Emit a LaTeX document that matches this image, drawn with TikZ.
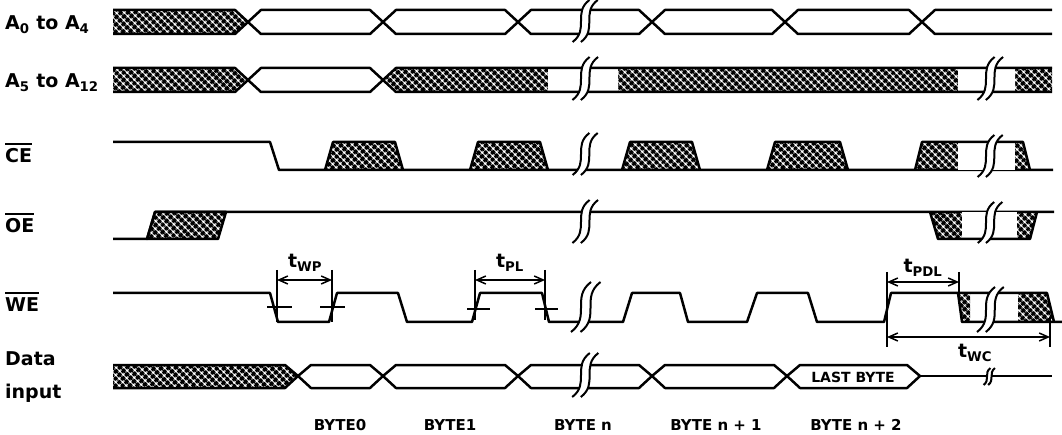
\documentclass[tikz,border=0pt]{standalone}
\usepackage{fontspec}
\setmainfont{DejaVu Sans}
\usetikzlibrary{patterns.meta,arrows.meta}
\tikzdeclarepattern{name=xhatch,type=uncolored,
  bounding box={(0pt,0pt) and (5.7pt,5.7pt)},tile size={(5.7pt,5.7pt)},
  tile transformation={rotate=45},
  code={\draw[line width=3.3pt](0pt,2.85pt)--(5.7pt,2.85pt)(2.85pt,0pt)--(2.85pt,5.7pt);}}
\newcommand{\ovl}[1]{\vbox{\hrule height 1.8pt\kern 4pt\hbox{#1}}}
\newcommand{\sbreak}[3]{%
\pgfmathsetmacro{\bh}{#3-#2}\pgfmathsetmacro{\ba}{0.2*\bh}%
\pgfmathsetmacro{\bc}{0.3*\bh}\pgfmathsetmacro{\bs}{0.15*\bh+2}%
\fill[white]({#1-\ba},#3)..controls({#1+\ba},{#3-\bc})and({#1-\ba},{#2+\bc})..({#1+\ba},#2)
--({#1+\ba+\bs},#2)..controls({#1-\ba+\bs},{#2+\bc})and({#1+\ba+\bs},{#3-\bc})..({#1-\ba+\bs},#3)--cycle;
\draw[brk]({#1-\ba},#3)..controls({#1+\ba},{#3-\bc})and({#1-\ba},{#2+\bc})..({#1+\ba},#2)
({#1-\ba+\bs},#3)..controls({#1+\ba+\bs},{#3-\bc})and({#1-\ba+\bs},{#2+\bc})..({#1+\ba+\bs},#2);}
\begin{document}
\begin{tikzpicture}[x=1pt,y=-1pt,
  sig/.style={line width=2.5pt,line join=round},
  hatch/.style={sig,pattern=xhatch},
  brk/.style={line width=2pt},
  aux/.style={line width=1.5pt},
  dim/.style={aux,{Straight Barb[length=9pt,width=8pt]}-{Straight Barb[length=9pt,width=8pt]}},
  lbl/.style={font=\fontsize{19}{23}\selectfont\bfseries,anchor=base west,inner sep=0pt},
  tlbl/.style={font=\fontsize{19}{23}\selectfont\bfseries,inner sep=0pt},
  byte/.style={font=\fontsize{15}{18}\selectfont\bfseries,inner sep=0pt}]
\useasboundingbox(0,0)rectangle(1062,435);
\node[lbl](la0)at(5,30){A\textsubscript{0} to A\textsubscript{4}};
\node[lbl](la5)at(5,88){A\textsubscript{5} to A\textsubscript{12}};
\node[lbl](lce)at(5,163){\ovl{CE}};
\node[lbl](loe)at(5,233){\ovl{OE}};
\node[lbl](lwe)at(5,312){\ovl{WE}};
\node[lbl](ldata)at(5,365){Data};
\node[lbl](linput)at(5,398){input};
\draw[hatch](113,10)--(235,10)--(248,22)--(235,34)--(113,34);
\foreach \a/\b in {248/383,383/518,518/652,652/785,785/922}
  \draw[sig](\a,22)--(\a+13,10)--(\b-13,10)--(\b,22)--(\b-13,34)--(\a+13,34)--cycle;
\draw[sig](1052,10)--(935,10)--(922,22)--(935,34)--(1052,34);
\draw[hatch](113,68)--(235,68)--(248,80)--(235,92)--(113,92);
\draw[sig](248,80)--(261,68)--(370,68)--(383,80)--(370,92)--(261,92)--cycle;
\fill[pattern=xhatch](383,80)--(396,68)--(1052,68)--(1052,92)--(396,92)--cycle;
\fill[white](548,68)rectangle(618,92)(958,68)rectangle(1015,92);
\draw[sig](1052,68)--(396,68)--(383,80)--(396,92)--(1052,92);
\draw[sig](113,142)--(270,142)--(279,170)--(1053,170);
\foreach \a/\b in {325/403,470/548,622/700,767/848}
  \draw[hatch](\a,170)--(\a+8,142)--(\b-8,142)--(\b,170);
\fill[pattern=xhatch](915,170)--(922,142)--(1023,142)--(1030,170)--cycle;
\fill[white](958,142)rectangle(1015,170);
\draw[sig](915,170)--(922,142)--(1023,142)--(1030,170);
\draw[sig](113,239)--(147,239)--(155,212)--(1054,212);
\draw[hatch](147,239)--(155,212)--(226,212)--(218,239)--cycle;
\fill[pattern=xhatch](930,212)--(938,239)--(1030,239)--(1037,212)--cycle;
\fill[white](962,212)rectangle(1017,239);
\draw[sig](930,212)--(938,239)--(1030,239)--(1037,212);
\fill[pattern=xhatch](958,293)--(962,322)--(970,322)--(970,293)--cycle;
\fill[pattern=xhatch](1018,293)--(1047,293)--(1054,322)--(1018,322)--cycle;
\draw[sig](113,293)--(270,293)--(278,322)--(329,322)--(337,293)--(398,293)--(407,322)--(472,322)
  --(480,293)--(542,293)--(549,322)--(623,322)--(632,293)--(680,293)--(688,322)--(747,322)
  --(757,293)--(808,293)--(817,322)--(884,322)--(891,293)--(1047,293)--(1054,322);
\draw[sig](958,293)--(962,322)--(1062,322);
\draw[aux](277,270)--(277,322)(332,270)--(332,322)(267,307)--(292,307)(320,307)--(345,307);
\draw[aux](475,270)--(475,320)(545,270)--(545,320)(467,309)--(490,309)(535,309)--(558,309);
\draw[aux](887,272)--(887,347)(959,272)--(959,293)(1050,317)--(1050,347);
\coordinate(wp1)at(277,280);\coordinate(wp2)at(332,280);
\coordinate(pl1)at(475,280);\coordinate(pl2)at(545,280);
\coordinate(pdl1)at(887,282);\coordinate(pdl2)at(959,282);
\coordinate(wc1)at(887,337);\coordinate(wc2)at(1050,337);
\draw[dim](wp1)--(wp2);
\draw[dim](pl1)--(pl2);
\draw[dim](pdl1)--(pdl2);
\draw[dim](wc1)--(wc2);
\node[tlbl](twp)at(305,263){t\textsubscript{WP}};
\node[tlbl](tpl)at(510,263){t\textsubscript{PL}};
\node[tlbl](tpdl)at(923,268){t\textsubscript{PDL}};
\node[tlbl](twc)at(975,353){t\textsubscript{WC}};
\draw[hatch](113,365)--(285,365)--(298,376)--(285,388)--(113,388);
\foreach \a/\b in {298/383,383/518,518/652,652/787,787/920}
  \draw[sig](\a,376)--(\a+13,365)--(\b-13,365)--(\b,376)--(\b-13,388)--(\a+13,388)--cycle;
\draw[sig](920,376)--(1052,376);
\node[byte,font=\fontsize{14}{17}\selectfont\bfseries](lastbyte)at(853,377){LAST BYTE};
\foreach \y/\z in {0/42,57/100,133/175,200/243,282/332,353/397}\sbreak{581}{\y}{\z};
\foreach \y/\z in {57/100,135/177,202/243,287/332}\sbreak{986}{\y}{\z};
\sbreak{987}{368}{385};
\node[byte](b0)at(340,425){BYTE0};
\node[byte](b1)at(450,425){BYTE1};
\node[byte](bn)at(583,425){BYTE n};
\node[byte](bn1)at(716,425){BYTE n + 1};
\node[byte](bn2)at(856,425){BYTE n + 2};
\end{tikzpicture}
\end{document}
